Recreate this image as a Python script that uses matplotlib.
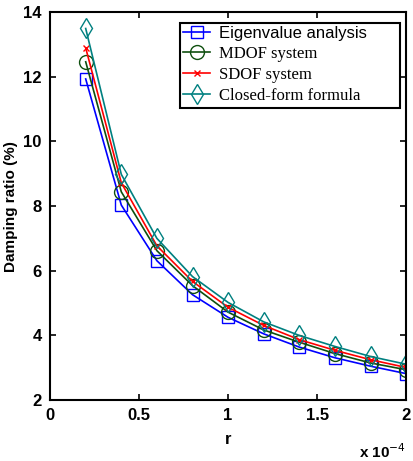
import matplotlib
matplotlib.use("Agg")
import matplotlib.pyplot as plt

r = [0.2, 0.4, 0.6, 0.8, 1.0, 1.2, 1.4, 1.6, 1.8, 2.0]  # x 1e-4
eigen = [11.93, 8.03, 6.31, 5.26, 4.56, 4.05, 3.64, 3.31, 3.05, 2.82]
mdof = [12.46, 8.44, 6.62, 5.54, 4.72, 4.17, 3.79, 3.44, 3.15, 2.94]
sdof = [12.89, 8.72, 6.77, 5.67, 4.87, 4.31, 3.87, 3.54, 3.25, 3.01]
closed = [13.49, 8.98, 7.0, 5.82, 5.02, 4.42, 4.0, 3.66, 3.35, 3.11]
labels = ["Eigenvalue analysis", "MDOF system", "SDOF system", "Closed-form formula"]

fig = plt.figure(figsize=(4.14, 4.61), dpi=100)
ax = fig.add_axes([0.121, 0.132, 0.86, 0.842])

ax.plot(r, eigen, color="#0000ff", marker="s", mfc="none", ms=9, lw=1.2, label=labels[0])
ax.plot(r, mdof, color="#0f4f0f", marker="o", mfc="none", ms=10, lw=1.2, label=labels[1])
ax.plot(r, sdof, color="#ff0000", marker="x", ms=5, lw=1.2, label=labels[2])
ax.plot(r, closed, color="#008080", marker="d", mfc="none", ms=10, lw=1.2, label=labels[3])

ax.set_xlim(0, 2)
ax.set_ylim(2, 14)
ax.set_xticks([0, 0.5, 1, 1.5, 2])
ax.set_xticklabels(["0", "0.5", "1", "1.5", "2"])
ax.set_yticks([2, 4, 6, 8, 10, 12, 14])
ax.tick_params(direction="in", top=True, right=True, length=4, width=1.2, labelsize=12, pad=6)
for lab in ax.get_xticklabels() + ax.get_yticklabels():
    lab.set_fontweight("bold")
    lab.set_family("Liberation Sans")
for s in ax.spines.values():
    s.set_linewidth(1.5)

ax.set_xlabel("r", fontsize=12, fontweight="bold", family="Liberation Sans", labelpad=6)
ax.set_ylabel("Damping ratio (%)", fontsize=11, fontweight="bold", family="Liberation Sans", labelpad=4)
ax.text(1.0, -0.149, r"x 10$^{-4}$", transform=ax.transAxes, ha="right", va="baseline",
        fontsize=11, fontweight="bold", family="Liberation Sans")

leg = ax.legend(loc="upper left", bbox_to_anchor=(0.365, 0.972, 0.618, 0.0), mode="expand",
                fancybox=False, edgecolor="black",
                framealpha=1, borderpad=0.2, labelspacing=0.3, handlelength=1.6, handletextpad=0.55,
                borderaxespad=0, fontsize=12)
leg.get_frame().set_linewidth(1.5)
texts = leg.get_texts()
texts[0].set_family("Liberation Sans")
for t in texts[1:]:
    t.set_family("Liberation Serif")

fig.savefig("out.png", dpi=100)
